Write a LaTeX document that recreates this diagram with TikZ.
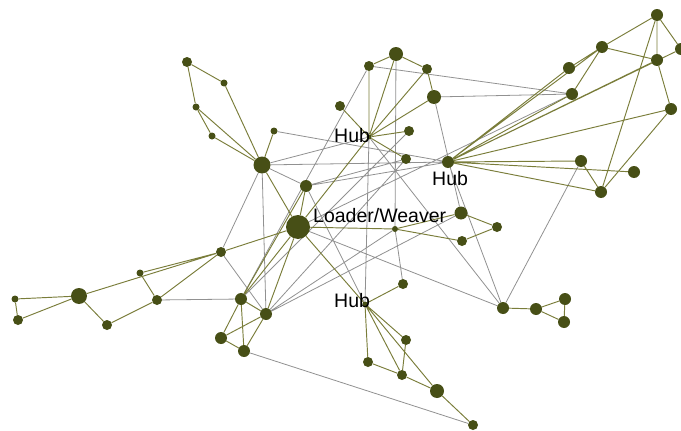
\documentclass[tikz,border=0pt]{standalone}
\usepackage{fontspec}
\setmainfont{Liberation Sans}
\usetikzlibrary{backgrounds}
\definecolor{nodec}{RGB}{71,79,22}
\definecolor{olivee}{RGB}{122,125,58}
\definecolor{greye}{RGB}{145,145,145}
\begin{document}
\begin{tikzpicture}[x=1pt,y=-1pt,
  nd/.style={circle,fill=nodec,draw=none,inner sep=0pt,minimum size=#1},
  oe/.style={draw=olivee,line width=0.95pt},
  ge/.style={draw=greye,line width=0.8pt},
  lbl/.style={font=\fontsize{19.5}{20}\selectfont,inner sep=0pt,anchor=base west,text=black}]
\useasboundingbox (0,0) rectangle (681,431);
% upper-left cluster
\node[nd=10pt] (A1) at (187,62) {};
\node[nd=7pt] (A2) at (224,83) {};
\node[nd=7pt] (A3) at (196,107) {};
\node[nd=7pt] (A4) at (212,136) {};
\node[nd=7pt] (A5) at (274,131) {};
\node[nd=17pt] (H1) at (262,165) {};
\node[nd=12pt] (N6) at (306,186) {};
\node[nd=24pt] (LW) at (298,227) {};
% top cluster
\node[nd=10pt] (T1) at (369,66) {};
\node[nd=14pt] (T2) at (396,54) {};
\node[nd=10pt] (T3) at (427,69) {};
\node[nd=14pt] (T4) at (434,97) {};
\node[nd=10pt] (T5) at (340,106) {};
\node[nd=5pt] (HA) at (369,137) {};
\node[nd=10pt] (T6) at (409,131) {};
\node[nd=10pt] (T7) at (406,159) {};
% right cluster
\node[nd=12pt] (HB) at (448,162) {};
\node[nd=12pt] (R1) at (657,15) {};
\node[nd=12pt] (R2) at (602,47) {};
\node[nd=12pt] (R3) at (569,68) {};
\node[nd=12pt] (R4) at (681,49) {};
\node[nd=12pt] (R5) at (657,60) {};
\node[nd=12pt] (R6) at (572,94) {};
\node[nd=12pt] (R7) at (671,109) {};
\node[nd=12pt] (R8) at (581,161) {};
\node[nd=12pt] (R9) at (634,172) {};
\node[nd=12pt] (R10) at (601,192) {};
% middle right
\node[nd=13pt] (M1) at (461,213) {};
\node[nd=10pt] (M2) at (497,227) {};
\node[nd=10pt] (M3) at (462,241) {};
\node[nd=6pt] (M4) at (395,229) {};
% bottom-left
\node[nd=10pt] (B1) at (221,252) {};
\node[nd=7pt] (B2) at (140,273) {};
\node[nd=16pt] (B3) at (79,296) {};
\node[nd=7pt] (B4) at (15,299) {};
\node[nd=10pt] (B5) at (18,320) {};
\node[nd=10pt] (B6) at (107,325) {};
\node[nd=10pt] (B7) at (157,300) {};
\node[nd=12pt] (B8) at (241,299) {};
\node[nd=12pt] (B9) at (266,314) {};
\node[nd=12pt] (B10) at (221,338) {};
\node[nd=12pt] (B11) at (244,351) {};
% bottom hub
\node[nd=5pt] (HC) at (365,304) {};
\node[nd=10pt] (C1) at (403,284) {};
\node[nd=10pt] (C2) at (406,340) {};
\node[nd=10pt] (C3) at (368,362) {};
\node[nd=10pt] (C4) at (402,375) {};
\node[nd=14pt] (C5) at (437,391) {};
\node[nd=10pt] (C6) at (473,425) {};
% lower right
\node[nd=12pt] (D1) at (503,308) {};
\node[nd=12pt] (D2) at (536,309) {};
\node[nd=12pt] (D3) at (565,299) {};
\node[nd=12pt] (D4) at (564,322) {};

\begin{scope}[on background layer]
% grey inter-cluster links
\draw[ge] (H1)--(HA) (H1)--(HB) (H1)--(N6) (H1)--(B1) (H1)--(B9)
  (A5)--(HB) (T1)--(R6) (T4)--(R6) (T4)--(M1) (T2)--(M4)
  (HA)--(HC) (N6)--(HB) (N6)--(T7) (N6)--(HC)
  (LW)--(R6) (LW)--(D1) (HA)--(D1) (HB)--(D1) (R8)--(D1)
  (B1)--(B9) (B7)--(B8) (B11)--(C6) (M4)--(C1)
  (B9)--(M4) (B9)--(T7) (B9)--(M1) (B8)--(T6) (B8)--(T1);
% olive intra-cluster links
\draw[oe] (A1)--(A2) (A1)--(A3) (A3)--(A4) (A3)--(H1) (A4)--(H1)
  (A2)--(H1) (A5)--(H1) (H1)--(LW);
\draw[oe] (T1)--(T2) (T2)--(T3) (T3)--(T4) (HA)--(T1) (HA)--(T2)
  (HA)--(T3) (HA)--(T4) (HA)--(T5) (HA)--(T6) (HA)--(T7) (HA)--(LW);
\draw[oe] (N6)--(LW) (N6)--(B8) (LW)--(B8) (LW)--(B9) (LW)--(B1)
  (LW)--(HC) (LW)--(M4) (M4)--(M1) (M4)--(M3) (M1)--(M2) (M2)--(M3);
\draw[oe] (HB)--(R2) (HB)--(R3) (HB)--(R6) (HB)--(R5) (HB)--(R4)
  (HB)--(R7) (HB)--(R8) (HB)--(R9) (HB)--(R10)
  (R1)--(R2) (R1)--(R5) (R1)--(R4) (R2)--(R5) (R2)--(R3) (R2)--(R6)
  (R5)--(R7) (R7)--(R10) (R1)--(R10) (R8)--(R10);
\draw[oe] (B1)--(B2) (B1)--(B3) (B2)--(B7) (B7)--(B1) (B7)--(B6)
  (B6)--(B3) (B3)--(B4) (B4)--(B5) (B5)--(B3)
  (B8)--(B9) (B8)--(B10) (B8)--(B11) (B10)--(B9) (B10)--(B11) (B11)--(B9);
\draw[oe] (HC)--(C1) (HC)--(C2) (HC)--(C3) (HC)--(C4) (HC)--(C5)
  (C2)--(C4) (C3)--(C4) (C4)--(C5) (C5)--(C6);
\draw[oe] (D1)--(D2) (D2)--(D3) (D2)--(D4) (D3)--(D4);
\end{scope}

% labels
\node[lbl] (LHA) at (334,142) {Hub};
\node[lbl] (LHB) at (432,185) {Hub};
\node[lbl] (LHC) at (334,307) {Hub};
\node[lbl] (LLW) at (313,222) {Loader/Weaver};
\end{tikzpicture}
\end{document}
